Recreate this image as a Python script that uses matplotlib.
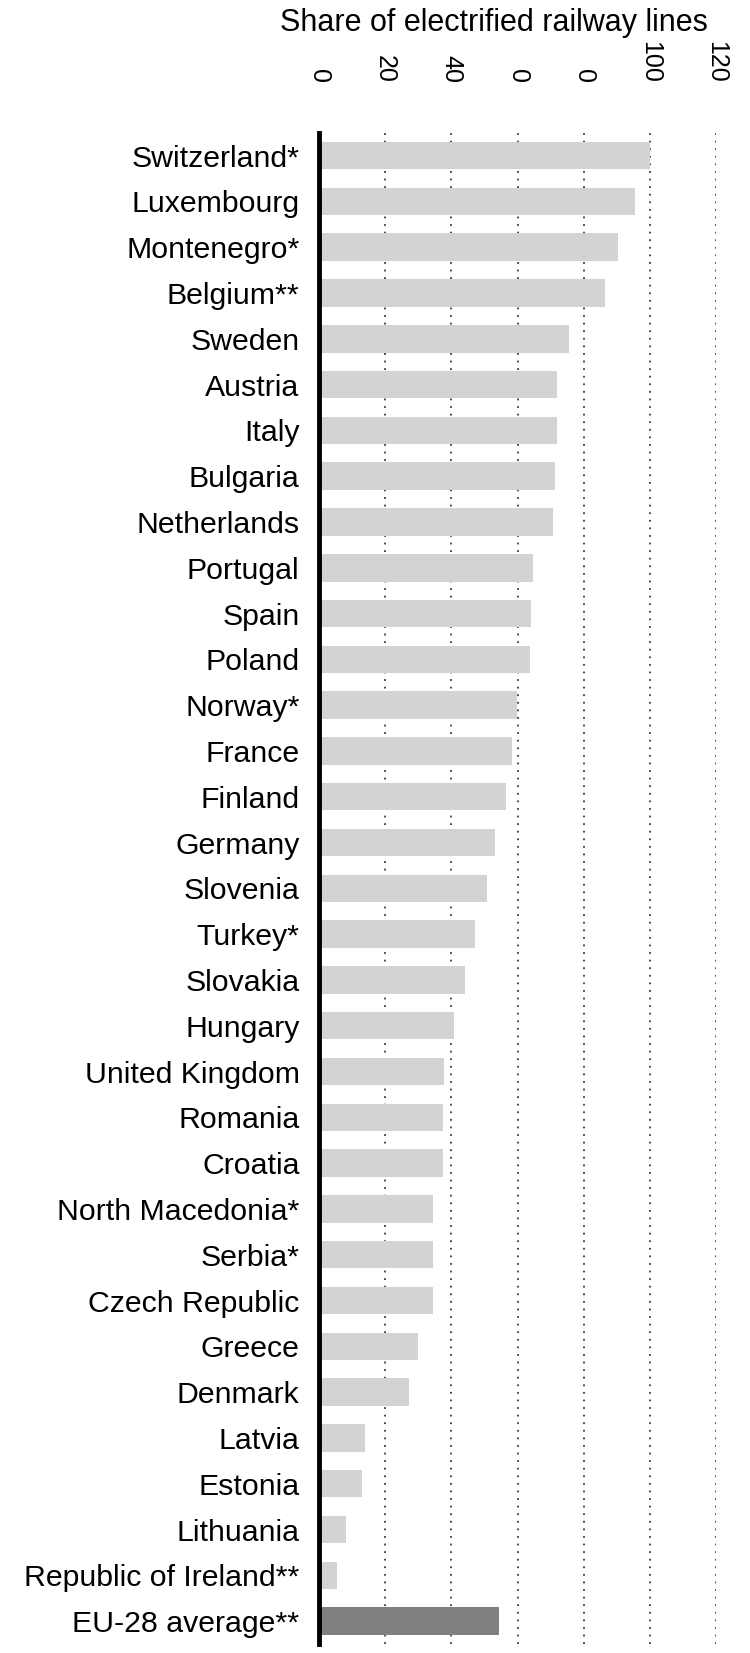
import matplotlib
matplotlib.use("Agg")
import matplotlib.pyplot as plt

countries = ["Switzerland*", "Luxembourg", "Montenegro*", "Belgium**", "Sweden",
             "Austria", "Italy", "Bulgaria", "Netherlands", "Portugal", "Spain",
             "Poland", "Norway*", "France", "Finland", "Germany", "Slovenia",
             "Turkey*", "Slovakia", "Hungary", "United Kingdom", "Romania",
             "Croatia", "North Macedonia*", "Serbia*", "Czech Republic", "Greece",
             "Denmark", "Latvia", "Estonia", "Lithuania", "Republic of Ireland**",
             "EU-28 average**"]
values = [100.0, 95.6, 90.3, 86.3, 75.5, 72.0, 71.8, 71.3, 70.8, 64.7, 64.1,
          63.9, 59.8, 58.4, 56.4, 53.2, 50.8, 47.2, 44.1, 40.8, 37.8, 37.5,
          37.4, 34.5, 34.5, 34.5, 29.9, 27.3, 13.8, 13.0, 8.3, 5.5, 54.3]
tick_values = [0, 20, 40, 60, 80, 100, 120]
tick_labels = ["0", "20", "40", "0", "0", "100", "120"]
title = "Share of electrified railway lines"

plt.rcParams['font.family'] = ['Liberation Sans', 'DejaVu Sans']

W, H = 750, 1653
fig = plt.figure(figsize=(W / 100, H / 100), dpi=100)
ax_left, ax_right, ax_top, ax_bot = 319, 716, 132.7, 1644
ax = fig.add_axes([ax_left / W, 1 - ax_bot / H, (ax_right - ax_left) / W, (ax_bot - ax_top) / H])

colors = ["#d3d3d3"] * (len(values) - 1) + ["#808080"]
y = list(range(len(values)))
ax.barh(y, values, height=0.6, color=colors, zorder=2)

ax.set_ylim(len(values) - 0.5, -0.5)
ax.set_xlim(0, 120)
ax.set_yticks(y)
ax.set_yticklabels(countries, fontsize=21.8)
ax.tick_params(axis='y', length=0, pad=14)

ax.xaxis.tick_top()
ax.set_xticks(tick_values)
ax.set_xticklabels(tick_labels, rotation=270, fontsize=18)
ax.tick_params(axis='x', length=0, pad=36)

for v in tick_values[1:]:
    ax.axvline(v, color="#3a3a3a", linestyle=(0, (1, 3.2)), linewidth=1.3, zorder=1)

for s in ["top", "right", "bottom"]:
    ax.spines[s].set_visible(False)
ax.spines["left"].set_linewidth(3.5)
ax.spines["left"].set_color("black")
ax.spines["left"].set_zorder(3)

fig.text(494 / W, 1 - 31 / H, title, ha="center", va="baseline", fontsize=22)

fig.savefig("out.png", dpi=100)
